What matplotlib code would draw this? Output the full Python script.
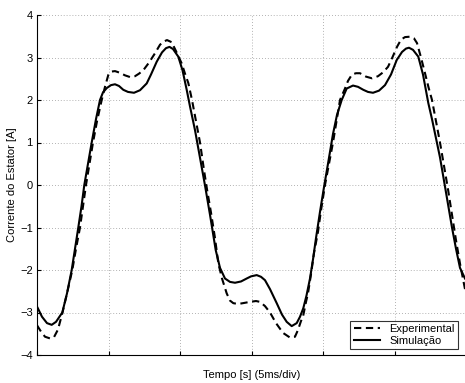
import matplotlib
matplotlib.use("Agg")
import matplotlib.pyplot as plt

plt.rcParams['font.family'] = ['Liberation Sans', 'DejaVu Sans']

# time in ms, current in A
t_sim = [0.000, 0.349, 0.698, 1.027, 1.327, 1.767, 2.095, 2.423, 2.654, 2.884,
         3.108, 3.303, 3.561, 3.820, 4.120, 4.399, 4.609, 4.867, 5.168, 5.447,
         5.726, 6.026, 6.355, 6.774, 7.193, 7.661, 7.961, 8.359, 8.729, 9.008,
         9.253, 9.497, 9.867, 10.161, 10.454, 10.684, 11.034, 11.383, 11.732, 12.081,
         12.479, 12.779, 13.128, 13.478, 13.827, 14.246, 14.644, 14.944, 15.342, 15.642,
         15.922, 16.271, 16.739, 17.109, 17.437, 17.786, 18.135, 18.366, 18.596, 18.820,
         19.064, 19.274, 19.483, 19.763, 20.042, 20.321, 20.670, 20.950, 21.278, 21.627,
         22.067, 22.416, 22.786, 23.114, 23.464, 23.883, 24.302, 24.721, 25.119, 25.489,
         25.768, 25.977, 26.257, 26.627, 26.955, 27.325, 27.584, 27.863, 28.142, 28.422,
         28.701, 28.980, 29.260, 29.539, 29.888]
i_sim = [-2.86, -3.10, -3.25, -3.29, -3.22, -3.00, -2.55, -2.00, -1.50, -1.00,
         -0.50, 0.00, 0.50, 1.00, 1.55, 2.00, 2.18, 2.28, 2.35, 2.37,
         2.33, 2.24, 2.19, 2.17, 2.23, 2.39, 2.60, 2.90, 3.12, 3.22,
         3.25, 3.20, 3.02, 2.70, 2.24, 1.85, 1.29, 0.64, -0.01, -0.70,
         -1.53, -1.95, -2.20, -2.28, -2.30, -2.27, -2.20, -2.15, -2.12, -2.16,
         -2.24, -2.45, -2.78, -3.05, -3.22, -3.32, -3.25, -3.10, -2.90, -2.60,
         -2.20, -1.75, -1.25, -0.63, -0.05, 0.50, 1.20, 1.65, 2.00, 2.27,
         2.34, 2.31, 2.24, 2.19, 2.17, 2.22, 2.35, 2.60, 2.94, 3.13,
         3.21, 3.23, 3.18, 3.02, 2.60, 1.93, 1.55, 1.10, 0.65, 0.10,
         -0.45, -1.00, -1.50, -1.95, -2.20]

t_exp = [0.000, 0.279, 0.559, 0.908, 1.187, 1.466, 1.781, 2.095, 2.465, 2.723,
         3.003, 3.212, 3.422, 3.666, 3.911, 4.190, 4.518, 4.749, 4.979, 5.216,
         5.447, 5.796, 6.145, 6.494, 6.844, 7.123, 7.423, 7.821, 8.240, 8.589,
         8.820, 9.078, 9.406, 9.707, 10.105, 10.335, 10.566, 10.824, 11.103, 11.383,
         11.662, 11.871, 12.151, 12.430, 12.661, 12.919, 13.247, 13.478, 13.708, 14.036,
         14.385, 14.874, 15.293, 15.573, 15.922, 16.271, 16.690, 17.179, 17.667, 18.016,
         18.226, 18.436, 18.575, 18.785, 18.924, 19.134, 19.344, 19.623, 19.832, 20.112,
         20.391, 20.670, 20.915, 21.159, 21.508, 21.718, 21.997, 22.276, 22.556, 22.975,
         23.394, 23.813, 24.162, 24.511, 24.790, 25.140, 25.419, 25.698, 26.047, 26.327,
         26.536, 26.815, 27.095, 27.339, 27.584, 27.863, 28.142, 28.422, 28.701, 28.980,
         29.260, 29.539, 29.888]
i_exp = [-3.30, -3.45, -3.57, -3.61, -3.58, -3.40, -3.00, -2.55, -2.00, -1.50,
         -1.00, -0.50, 0.00, 0.50, 1.00, 1.50, 2.00, 2.31, 2.59, 2.67,
         2.68, 2.64, 2.58, 2.54, 2.56, 2.62, 2.70, 2.88, 3.10, 3.30,
         3.37, 3.41, 3.36, 3.15, 2.86, 2.62, 2.40, 2.00, 1.50, 1.00,
         0.35, -0.10, -0.65, -1.25, -1.84, -2.20, -2.55, -2.72, -2.78, -2.80,
         -2.78, -2.75, -2.73, -2.75, -2.85, -3.00, -3.25, -3.48, -3.59, -3.57,
         -3.41, -3.20, -3.10, -2.75, -2.55, -2.10, -1.60, -1.10, -0.60, 0.00,
         0.50, 1.00, 1.50, 2.00, 2.27, 2.45, 2.60, 2.63, 2.63, 2.55,
         2.51, 2.56, 2.65, 2.78, 2.98, 3.25, 3.42, 3.48, 3.49, 3.45,
         3.34, 3.00, 2.63, 2.30, 2.00, 1.50, 1.00, 0.45, -0.10, -0.70,
         -1.30, -1.85, -2.45]

x_ticks = [0, 5, 10, 15, 20, 25, 30]
y_ticks = [-4, -3, -2, -1, 0, 1, 2, 3, 4]
labels = ['Experimental', 'Simulação']

fig = plt.figure(figsize=(4.65, 3.83), dpi=100)
ax = fig.add_axes([37/465, 28/383, 429.6/465, 340/383])

ax.plot(t_exp, i_exp, color='black', lw=1.5, linestyle=(0, (3.5, 2.2)), label=labels[0])
ax.plot(t_sim, i_sim, color='black', lw=1.5, linestyle='-', label=labels[1])

ax.set_xlim(0, 30)
ax.set_ylim(-4, 4)
ax.set_xticks(x_ticks)
ax.set_xticklabels([])
ax.set_yticks(y_ticks)
ax.set_yticklabels([str(v).replace('-', '\u2212') for v in y_ticks])
ax.tick_params(direction='in', length=3, width=0.8, labelsize=8, pad=3)
ax.grid(True, linestyle=(0, (1, 2.5)), color='#999999', lw=0.6)
ax.spines['top'].set_visible(False)
ax.spines['right'].set_visible(False)
ax.set_xlabel('Tempo [s] (5ms/div)', fontsize=8, labelpad=8)
ax.set_ylabel('Corrente do Estator [A]', fontsize=8, labelpad=2)

leg = ax.legend(loc='lower right', bbox_to_anchor=(423/429.6, 0.01), fontsize=8,
                frameon=True, fancybox=False, handlelength=2.4, borderpad=0.3,
                labelspacing=0.15, handletextpad=0.8, borderaxespad=0.2)
leg.get_frame().set_edgecolor('black')
leg.get_frame().set_linewidth(0.8)

fig.savefig('out.png', dpi=100)
